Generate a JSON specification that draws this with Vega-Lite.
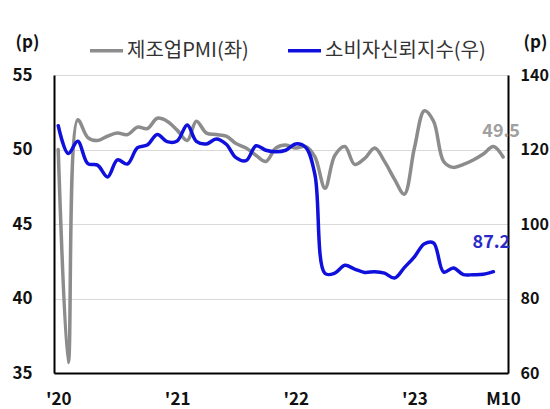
{
  "$schema": "https://vega.github.io/schema/vega-lite/v6.json",
  "width": 454,
  "height": 298,
  "autosize": {"type": "none"},
  "padding": {"left": 54, "top": 75, "right": 42, "bottom": 36},
  "background": "white",
  "config": {
    "view": {"stroke": null},
    "font": "Noto Sans CJK KR",
    "legend": {
      "orient": "none",
      "legendX": 34,
      "legendY": -43,
      "direction": "horizontal",
      "padding": 0,
      "symbolType": "stroke",
      "symbolSize": 1089,
      "symbolStrokeWidth": 3.5,
      "labelFont": "Noto Sans CJK KR",
      "labelFontSize": 20,
      "labelColor": "#333333",
      "labelOffset": 2,
      "columnPadding": 32,
      "labelLimit": 300
    }
  },
  "datasets": {
    "pmi": [
      {"month": "2020-01-01", "series": "제조업PMI(좌)", "value": 50.0},
      {"month": "2020-02-01", "series": "제조업PMI(좌)", "value": 35.7},
      {"month": "2020-03-01", "series": "제조업PMI(좌)", "value": 52.0},
      {"month": "2020-04-01", "series": "제조업PMI(좌)", "value": 50.8},
      {"month": "2020-05-01", "series": "제조업PMI(좌)", "value": 50.6},
      {"month": "2020-06-01", "series": "제조업PMI(좌)", "value": 50.9},
      {"month": "2020-07-01", "series": "제조업PMI(좌)", "value": 51.1},
      {"month": "2020-08-01", "series": "제조업PMI(좌)", "value": 51.0},
      {"month": "2020-09-01", "series": "제조업PMI(좌)", "value": 51.5},
      {"month": "2020-10-01", "series": "제조업PMI(좌)", "value": 51.4},
      {"month": "2020-11-01", "series": "제조업PMI(좌)", "value": 52.1},
      {"month": "2020-12-01", "series": "제조업PMI(좌)", "value": 51.9},
      {"month": "2021-01-01", "series": "제조업PMI(좌)", "value": 51.3},
      {"month": "2021-02-01", "series": "제조업PMI(좌)", "value": 50.6},
      {"month": "2021-03-01", "series": "제조업PMI(좌)", "value": 51.9},
      {"month": "2021-04-01", "series": "제조업PMI(좌)", "value": 51.1},
      {"month": "2021-05-01", "series": "제조업PMI(좌)", "value": 51.0},
      {"month": "2021-06-01", "series": "제조업PMI(좌)", "value": 50.9},
      {"month": "2021-07-01", "series": "제조업PMI(좌)", "value": 50.4},
      {"month": "2021-08-01", "series": "제조업PMI(좌)", "value": 50.1},
      {"month": "2021-09-01", "series": "제조업PMI(좌)", "value": 49.6},
      {"month": "2021-10-01", "series": "제조업PMI(좌)", "value": 49.2},
      {"month": "2021-11-01", "series": "제조업PMI(좌)", "value": 50.1},
      {"month": "2021-12-01", "series": "제조업PMI(좌)", "value": 50.3},
      {"month": "2022-01-01", "series": "제조업PMI(좌)", "value": 50.1},
      {"month": "2022-02-01", "series": "제조업PMI(좌)", "value": 50.2},
      {"month": "2022-03-01", "series": "제조업PMI(좌)", "value": 49.5},
      {"month": "2022-04-01", "series": "제조업PMI(좌)", "value": 47.4},
      {"month": "2022-05-01", "series": "제조업PMI(좌)", "value": 49.6},
      {"month": "2022-06-01", "series": "제조업PMI(좌)", "value": 50.2},
      {"month": "2022-07-01", "series": "제조업PMI(좌)", "value": 49.0},
      {"month": "2022-08-01", "series": "제조업PMI(좌)", "value": 49.4},
      {"month": "2022-09-01", "series": "제조업PMI(좌)", "value": 50.1},
      {"month": "2022-10-01", "series": "제조업PMI(좌)", "value": 49.2},
      {"month": "2022-11-01", "series": "제조업PMI(좌)", "value": 48.0},
      {"month": "2022-12-01", "series": "제조업PMI(좌)", "value": 47.0},
      {"month": "2023-01-01", "series": "제조업PMI(좌)", "value": 50.1},
      {"month": "2023-02-01", "series": "제조업PMI(좌)", "value": 52.6},
      {"month": "2023-03-01", "series": "제조업PMI(좌)", "value": 51.9},
      {"month": "2023-04-01", "series": "제조업PMI(좌)", "value": 49.2},
      {"month": "2023-05-01", "series": "제조업PMI(좌)", "value": 48.8},
      {"month": "2023-06-01", "series": "제조업PMI(좌)", "value": 49.0},
      {"month": "2023-07-01", "series": "제조업PMI(좌)", "value": 49.3},
      {"month": "2023-08-01", "series": "제조업PMI(좌)", "value": 49.7},
      {"month": "2023-09-01", "series": "제조업PMI(좌)", "value": 50.2},
      {"month": "2023-10-01", "series": "제조업PMI(좌)", "value": 49.5}
    ],
    "cci": [
      {"month": "2020-01-01", "series": "소비자신뢰지수(우)", "value": 126.4},
      {"month": "2020-02-01", "series": "소비자신뢰지수(우)", "value": 118.9},
      {"month": "2020-03-01", "series": "소비자신뢰지수(우)", "value": 122.2},
      {"month": "2020-04-01", "series": "소비자신뢰지수(우)", "value": 116.2},
      {"month": "2020-05-01", "series": "소비자신뢰지수(우)", "value": 115.8},
      {"month": "2020-06-01", "series": "소비자신뢰지수(우)", "value": 112.6},
      {"month": "2020-07-01", "series": "소비자신뢰지수(우)", "value": 117.2},
      {"month": "2020-08-01", "series": "소비자신뢰지수(우)", "value": 116.1},
      {"month": "2020-09-01", "series": "소비자신뢰지수(우)", "value": 120.5},
      {"month": "2020-10-01", "series": "소비자신뢰지수(우)", "value": 121.2},
      {"month": "2020-11-01", "series": "소비자신뢰지수(우)", "value": 124.0},
      {"month": "2020-12-01", "series": "소비자신뢰지수(우)", "value": 122.1},
      {"month": "2021-01-01", "series": "소비자신뢰지수(우)", "value": 122.3},
      {"month": "2021-02-01", "series": "소비자신뢰지수(우)", "value": 126.6},
      {"month": "2021-03-01", "series": "소비자신뢰지수(우)", "value": 122.2},
      {"month": "2021-04-01", "series": "소비자신뢰지수(우)", "value": 121.5},
      {"month": "2021-05-01", "series": "소비자신뢰지수(우)", "value": 122.8},
      {"month": "2021-06-01", "series": "소비자신뢰지수(우)", "value": 121.4},
      {"month": "2021-07-01", "series": "소비자신뢰지수(우)", "value": 117.8},
      {"month": "2021-08-01", "series": "소비자신뢰지수(우)", "value": 117.0},
      {"month": "2021-09-01", "series": "소비자신뢰지수(우)", "value": 121.0},
      {"month": "2021-10-01", "series": "소비자신뢰지수(우)", "value": 119.8},
      {"month": "2021-11-01", "series": "소비자신뢰지수(우)", "value": 119.4},
      {"month": "2021-12-01", "series": "소비자신뢰지수(우)", "value": 119.8},
      {"month": "2022-01-01", "series": "소비자신뢰지수(우)", "value": 121.5},
      {"month": "2022-02-01", "series": "소비자신뢰지수(우)", "value": 120.5},
      {"month": "2022-03-01", "series": "소비자신뢰지수(우)", "value": 113.2},
      {"month": "2022-04-01", "series": "소비자신뢰지수(우)", "value": 86.7},
      {"month": "2022-05-01", "series": "소비자신뢰지수(우)", "value": 86.8},
      {"month": "2022-06-01", "series": "소비자신뢰지수(우)", "value": 88.9},
      {"month": "2022-07-01", "series": "소비자신뢰지수(우)", "value": 87.9},
      {"month": "2022-08-01", "series": "소비자신뢰지수(우)", "value": 87.0},
      {"month": "2022-09-01", "series": "소비자신뢰지수(우)", "value": 87.2},
      {"month": "2022-10-01", "series": "소비자신뢰지수(우)", "value": 86.8},
      {"month": "2022-11-01", "series": "소비자신뢰지수(우)", "value": 85.5},
      {"month": "2022-12-01", "series": "소비자신뢰지수(우)", "value": 88.3},
      {"month": "2023-01-01", "series": "소비자신뢰지수(우)", "value": 91.2},
      {"month": "2023-02-01", "series": "소비자신뢰지수(우)", "value": 94.7},
      {"month": "2023-03-01", "series": "소비자신뢰지수(우)", "value": 94.9},
      {"month": "2023-04-01", "series": "소비자신뢰지수(우)", "value": 87.1},
      {"month": "2023-05-01", "series": "소비자신뢰지수(우)", "value": 88.2},
      {"month": "2023-06-01", "series": "소비자신뢰지수(우)", "value": 86.4},
      {"month": "2023-07-01", "series": "소비자신뢰지수(우)", "value": 86.4},
      {"month": "2023-08-01", "series": "소비자신뢰지수(우)", "value": 86.5},
      {"month": "2023-09-01", "series": "소비자신뢰지수(우)", "value": 87.2}
    ]
  },
  "layer": [
    {
      "data": {"name": "pmi"},
      "encoding": {
        "x": {
          "field": "month",
          "type": "temporal",
          "scale": {"type": "utc", "domain": [1576713600000, 1697414400000]},
          "axis": {
            "title": null,
            "values": [1577836800000, 1609459200000, 1640995200000, 1672531200000, 1696118400000],
            "labelExpr": "utcmonth(datum.value) == 9 ? 'M10' : \"'\" + utcFormat(datum.value, '%y')",
            "grid": false,
            "ticks": false,
            "domainColor": "#000000",
            "domainWidth": 2,
            "labelFontSize": 17,
            "labelFontWeight": "bold",
            "labelColor": "#111111",
            "labelPadding": 18,
            "labelFlush": false,
            "labelOverlap": false,
            "zindex": 1
          }
        },
        "y": {
          "field": "value",
          "type": "quantitative",
          "scale": {"domain": [35, 55], "zero": false, "nice": false},
          "axis": {
            "orient": "left",
            "values": [35, 40, 45, 50, 55],
            "grid": true,
            "gridColor": "#d9d9d9",
            "gridWidth": 1,
            "ticks": false,
            "domainColor": "#000000",
            "domainWidth": 2,
            "labelFontSize": 17,
            "labelFontWeight": "bold",
            "labelColor": "#111111",
            "labelPadding": 22,
            "title": "(p)",
            "titleAngle": 0,
            "titleX": -27,
            "titleY": -33,
            "titleAlign": "center",
            "titleBaseline": "middle",
            "titleFontSize": 17,
            "titleFontWeight": "bold",
            "titleColor": "#111111"
          }
        }
      },
      "layer": [
        {
          "mark": {"type": "line", "interpolate": "catmull-rom", "strokeWidth": 3.5, "strokeCap": "round", "strokeJoin": "round"},
          "encoding": {
            "color": {
              "field": "series",
              "type": "nominal",
              "scale": {"domain": ["제조업PMI(좌)", "소비자신뢰지수(우)"], "range": ["#8c8c8c", "#1010dd"]},
              "legend": {"title": null}
            }
          }
        },
        {
          "transform": [{"filter": "time(datum.month) == time('2023-10-01')"}],
          "mark": {"type": "text", "dx": -2, "dy": -25, "fontSize": 18, "fontWeight": "bold", "color": "#a0a0a0"},
          "encoding": {"text": {"field": "value", "type": "quantitative", "format": ".1f"}}
        }
      ]
    },
    {
      "data": {"name": "cci"},
      "encoding": {
        "x": {"field": "month", "type": "temporal"},
        "y": {
          "field": "value",
          "type": "quantitative",
          "scale": {"domain": [60, 140], "zero": false, "nice": false},
          "axis": {
            "orient": "right",
            "values": [60, 80, 100, 120, 140],
            "grid": false,
            "ticks": false,
            "domainColor": "#000000",
            "domainWidth": 2,
            "labelFontSize": 16,
            "labelFontWeight": "bold",
            "labelColor": "#111111",
            "labelPadding": 12,
            "title": "(p)",
            "titleAngle": 0,
            "titleX": 27,
            "titleY": -33,
            "titleAlign": "center",
            "titleBaseline": "middle",
            "titleFontSize": 17,
            "titleFontWeight": "bold",
            "titleColor": "#111111"
          }
        }
      },
      "layer": [
        {
          "mark": {"type": "line", "interpolate": "catmull-rom", "strokeWidth": 3.5, "strokeCap": "round", "strokeJoin": "round"},
          "encoding": {
            "color": {
              "field": "series",
              "type": "nominal",
              "scale": {"domain": ["제조업PMI(좌)", "소비자신뢰지수(우)"], "range": ["#8c8c8c", "#1010dd"]},
              "legend": {"title": null}
            }
          }
        },
        {
          "transform": [{"filter": "time(datum.month) == time('2023-09-01')"}],
          "mark": {"type": "text", "dx": -2, "dy": -29, "fontSize": 18, "fontWeight": "bold", "color": "#2a2ac8"},
          "encoding": {"text": {"field": "value", "type": "quantitative", "format": ".1f"}}
        }
      ]
    }
  ],
  "resolve": {"scale": {"y": "independent"}}
}
